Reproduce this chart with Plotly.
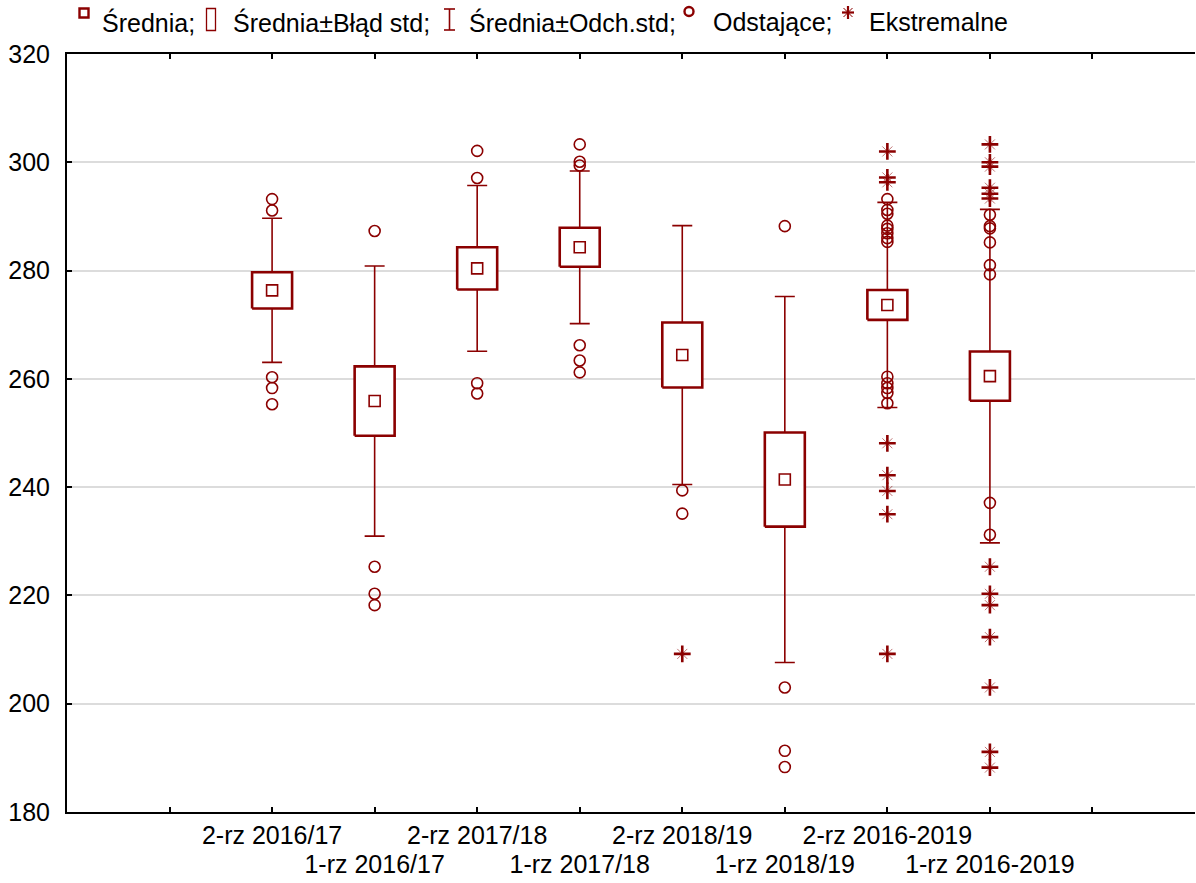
import plotly.graph_objects as go

# ---- data -------------------------------------------------------------
categories = ["2-rz 2016/17", "1-rz 2016/17", "2-rz 2017/18", "1-rz 2017/18",
              "2-rz 2018/19", "1-rz 2018/19", "2-rz 2016-2019", "1-rz 2016-2019"]
positions = [1, 2, 3, 4, 5, 6, 7, 8]

means = [276.35, 255.9, 280.4, 284.3, 264.4, 241.4, 273.65, 260.5]
std_err = [3.35, 6.4, 3.9, 3.6, 6.0, 8.7, 2.75, 4.55]
std_dev = [13.3, 24.95, 15.3, 14.1, 23.9, 33.8, 18.95, 30.8]

# outliers (Odstające) and extremes (Ekstremalne) per category position
outlier_pos = ([1] * 5 + [2] * 4 + [3] * 4 + [4] * 6 + [5] * 2 + [6] * 4
               + [7] * 13 + [8] * 8)
outlier_val = [293.2, 291.1, 260.3, 258.3, 255.3,
               287.3, 225.3, 220.3, 218.2,
               302.1, 297.1, 259.2, 257.3,
               303.3, 300.1, 299.4, 266.2, 263.4, 261.2,
               239.4, 235.1,
               288.2, 203.0, 191.3, 188.3,
               293.2, 291.2, 290.5, 288.3, 287.7, 286.9, 286.0, 285.3,
               260.4, 259.2, 258.3, 257.4, 255.5,
               290.3, 288.2, 287.8, 285.2, 281.0, 279.3, 237.1, 231.2]

extreme_pos = [5] + [7] * 8 + [8] * 13
extreme_val = [209.2,
               302.0, 297.2, 296.3, 248.1, 242.2, 239.3, 235.0, 209.2,
               303.3, 300.0, 299.2, 295.3, 294.2, 293.3,
               225.3, 220.3, 218.2, 212.3, 203.0, 191.1, 188.2]

y_ticks = [180, 200, 220, 240, 260, 280, 300, 320]

# ---- styling ----------------------------------------------------------
RED = "#8B0000"
FONT = "Arial, Liberation Sans, sans-serif"
W, H = 1196, 883
ML, MR, MT, MB = 67, 1, 54, 71
BOX_HALF = 0.195

fig = go.Figure()

# mean ± std dev whiskers
fig.add_trace(go.Scatter(
    x=positions, y=means, mode="markers",
    marker=dict(size=1, color="rgba(0,0,0,0)"),
    error_y=dict(type="data", array=std_dev, symmetric=True,
                 color=RED, thickness=1.6, width=10),
    showlegend=False, hoverinfo="skip"))

# mean ± std error boxes
bx, by = [], []
for p, m, s in zip(positions, means, std_err):
    bx += [p - BOX_HALF, p + BOX_HALF, p + BOX_HALF, p - BOX_HALF, p - BOX_HALF, None]
    by += [m - s, m - s, m + s, m + s, m - s, None]
fig.add_trace(go.Scatter(
    x=bx, y=by, mode="lines", fill="toself", fillcolor="white",
    line=dict(color=RED, width=2.6), showlegend=False, hoverinfo="skip"))

# means
fig.add_trace(go.Scatter(
    x=positions, y=means, mode="markers",
    marker=dict(symbol="square-open", size=11, color=RED, line=dict(width=1.6)),
    showlegend=False))

# outliers
fig.add_trace(go.Scatter(
    x=outlier_pos, y=outlier_val, mode="markers",
    marker=dict(symbol="circle-open", size=11, color=RED, line=dict(width=1.6)),
    showlegend=False))

# extremes: bold cross with thin diagonals
fig.add_trace(go.Scatter(
    x=extreme_pos, y=extreme_val, mode="markers",
    marker=dict(symbol="x-thin-open", size=10, color="rgba(139,0,0,0.55)",
                line=dict(width=1)),
    showlegend=False))
fig.add_trace(go.Scatter(
    x=extreme_pos, y=extreme_val, mode="markers",
    marker=dict(symbol="cross-thin-open", size=12, color=RED, line=dict(width=2.6)),
    showlegend=False))

# invisible trace so the second (staggered label) x axis is drawn
fig.add_trace(go.Scatter(x=positions, y=means, xaxis="x2", mode="markers",
                         marker=dict(opacity=0), showlegend=False,
                         hoverinfo="skip"))

# ---- legend drawn along the top ----------------------------------------
PW, PH = W - ML - MR, H - MT - MB


def px(x):
    return (x - ML) / PW


def py(y):
    return (H - MB - y) / PH


shapes = []
# Średnia: small square
shapes.append(dict(type="rect", xref="paper", yref="paper",
                   x0=px(79.5), x1=px(88.5), y0=py(17.5), y1=py(8.5),
                   line=dict(color=RED, width=2.4), fillcolor="white"))
# Średnia±Błąd std: tall rectangle
shapes.append(dict(type="rect", xref="paper", yref="paper",
                   x0=px(206.5), x1=px(215.5), y0=py(30.5), y1=py(8.5),
                   line=dict(color=RED, width=1.3), fillcolor="white"))
# Średnia±Odch.std: I-beam
for x0, x1, y0, y1 in [(449.5, 449.5, 9, 30), (444, 455, 9, 9), (444, 455, 30, 30)]:
    shapes.append(dict(type="line", xref="paper", yref="paper",
                       x0=px(x0), x1=px(x1), y0=py(y0), y1=py(y1),
                       line=dict(color=RED, width=1.6)))
# Odstające: small circle
shapes.append(dict(type="circle", xref="paper", yref="paper",
                   x0=px(684.5), x1=px(693.5), y0=py(16), y1=py(7),
                   line=dict(color=RED, width=2.4)))
# Ekstremalne: asterisk
for x0, x1, y0, y1, w in [(848, 848, 6, 19, 2.2), (842, 854, 12.5, 12.5, 2.2),
                          (843.5, 852.5, 8, 17, 1), (843.5, 852.5, 17, 8, 1)]:
    shapes.append(dict(type="line", xref="paper", yref="paper",
                       x0=px(x0), x1=px(x1), y0=py(y0), y1=py(y1),
                       line=dict(color=RED, width=w)))

legend_items = [(100, "Średnia;"), (231, "Średnia±Błąd std;"),
                (467, "Średnia±Odch.std;"), (711, "Odstające;"),
                (867, "Ekstremalne")]
annotations = [dict(x=px(x), y=py(22), xref="paper", yref="paper", text=t,
                    showarrow=False, xanchor="left", yanchor="middle",
                    font=dict(family=FONT, size=25, color="black"))
               for x, t in legend_items]

# ---- axes --------------------------------------------------------------
# first row of category labels (odd positions) on the main axis,
# second row (even positions) on an overlaying axis pushed further down
tick_vals = [0] + positions + [9]
tick_text = [""] + [c if i % 2 == 0 else "" for i, c in enumerate(categories)] + [""]
row2_vals = positions[1::2]
row2_text = categories[1::2]

fig.update_layout(
    width=W, height=H,
    margin=dict(l=ML, r=MR, t=MT, b=MB, pad=0),
    paper_bgcolor="white", plot_bgcolor="white",
    font=dict(family=FONT, size=25, color="black"),
    shapes=shapes, annotations=annotations,
    showlegend=False,
    xaxis=dict(range=[-1, 10], tickmode="array", tickvals=tick_vals,
               ticktext=tick_text, tickangle=0, automargin=False,
               ticks="inside", ticklen=5, tickwidth=1.5,
               tickcolor="black", showline=True, linecolor="black",
               linewidth=2, mirror="ticks", showgrid=False, zeroline=False,
               tickfont=dict(size=25), ticklabelstandoff=0),
    xaxis2=dict(range=[-1, 10], overlaying="x", side="bottom",
                tickmode="array", tickvals=row2_vals, ticktext=row2_text,
                tickangle=0, automargin=False, ticks="", showline=False,
                showgrid=False, zeroline=False, tickfont=dict(size=25),
                ticklabelstandoff=35),
    yaxis=dict(range=[180, 320], tickmode="array", tickvals=y_ticks,
               automargin=False,
               ticks="inside", ticklen=5, tickwidth=1.5, tickcolor="black",
               showline=True, linecolor="black", linewidth=2, mirror=False,
               showgrid=True, gridcolor="#DCDCDC", gridwidth=1.5,
               zeroline=False, tickfont=dict(size=25), ticklabelstandoff=10),
)

fig.write_html("out.html")
